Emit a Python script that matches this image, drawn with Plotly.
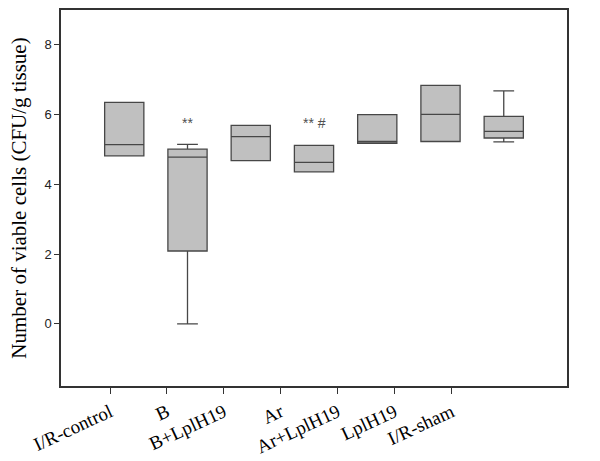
import plotly.graph_objects as go

categories = ["I/R-control", "B", "B+LplH19", "Ar", "Ar+LplH19", "LplH19", "I/R-sham"]
lower_whisker = [4.82, 0.00, 4.68, 4.36, 5.18, 5.23, 5.22]
q1 = [4.82, 2.09, 4.68, 4.36, 5.18, 5.23, 5.33]
median = [5.14, 4.78, 5.37, 4.63, 5.23, 6.01, 5.52]
q3 = [6.35, 5.01, 5.69, 5.12, 6.00, 6.84, 5.95]
upper_whisker = [6.35, 5.15, 5.69, 5.12, 6.00, 6.84, 6.68]
sig_labels = ["", "**", "", "** #", "", "", ""]
sig_y = [None, 5.77, None, 5.77, None, None, None]
y_ticks = [0, 2, 4, 6, 8]

positions = list(range(1, len(categories) + 1))
# SigmaPlot-style tick marks sit left of the boxes (labels end at the tick)
tick_pos = [0.775 + 0.9 * i for i in range(len(categories))]

fig = go.Figure()
fig.add_trace(go.Box(
    x=positions,
    q1=q1, median=median, q3=q3,
    lowerfence=lower_whisker, upperfence=upper_whisker,
    fillcolor="#c0c0c0",
    line=dict(color="#474747", width=1.3),
    width=0.62,
    whiskerwidth=0.53,
    boxpoints=False,
    showlegend=False,
    hoverinfo="skip",
))

for p, lab, yy in zip(positions, sig_labels, sig_y):
    if lab:
        fig.add_annotation(x=p, y=yy, text=lab, showarrow=False,
                           font=dict(family="Liberation Sans", size=14, color="#505050"),
                           xanchor="center", yanchor="middle")

fig.update_layout(
    width=600, height=461,
    margin=dict(l=61, r=33, t=10, b=75, autoexpand=False),
    paper_bgcolor="white", plot_bgcolor="white",
    showlegend=False,
)
fig.update_xaxes(
    range=[0, 8],
    tickmode="array", tickvals=tick_pos, ticktext=categories,
    tickangle=-25,
    tickfont=dict(family="Liberation Serif, Times New Roman, serif", size=19, color="black"),
    ticks="outside", ticklen=6, tickcolor="#333333",
    showline=True, linecolor="#333333", linewidth=1.5, mirror=True,
    showgrid=False, zeroline=False,
)
fig.update_yaxes(
    range=[-1.78, 9.0],
    tickmode="array", tickvals=y_ticks,
    tickfont=dict(family="Liberation Sans, Arial, sans-serif", size=13, color="#222222"),
    ticks="outside", ticklen=5, tickcolor="#333333",
    showline=True, linecolor="#333333", linewidth=1.5, mirror=True,
    showgrid=False, zeroline=False,
    title=dict(text="Number of viable cells (CFU/g tissue)",
               font=dict(family="Liberation Serif, Times New Roman, serif", size=21, color="black"),
               standoff=12),
)

fig.write_html("out.html", config={"displayModeBar": False},
               post_script="document.body.style.margin='0';")
